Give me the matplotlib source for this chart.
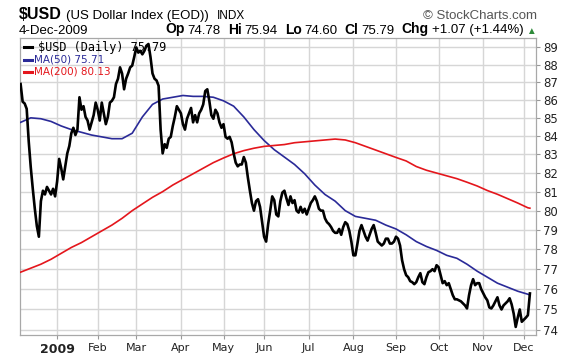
import matplotlib
matplotlib.use("Agg")
import matplotlib.pyplot as plt
from matplotlib.ticker import FixedLocator, NullLocator
import numpy as np
import pandas as pd

# Séances de cotation (jours ouvrés moins fériés US)
market_holidays = ["2008-12-25", "2009-01-01", "2009-01-19", "2009-02-16", "2009-04-10",
                   "2009-05-25", "2009-07-03", "2009-09-07", "2009-11-26"]
sessions = pd.bdate_range("2008-12-05", "2009-12-04", freq="C", holidays=market_holidays)

# Clôtures quotidiennes $USD, par mois
close_dec08 = [86.9, 85.9, 85.8, 85.5, 83.7, 82.3, 81.15, 80.1, 79.2, 78.65, 80.5, 81.05,
               80.85, 81.25, 81.05, 80.85, 81.15, 80.75]
close_jan = [81.55, 82.75, 82.25, 81.65, 82.35, 83.05, 83.45, 84.15, 84.45, 84.05, 84.35,
             86.15, 85.45, 85.65, 85.05, 84.85, 84.35, 84.75, 85.15, 85.85]
close_feb = [85.45, 84.85, 85.85, 85.25, 84.65, 85.05, 85.85, 85.95, 86.15, 86.9, 87.2,
             87.85, 87.5, 86.6, 87.2, 87.5, 87.85, 87.95, 88.45]
close_mar = [89.0, 88.7, 88.8, 88.6, 88.8, 89.1, 89.2, 88.45, 87.5, 87.2, 87.1, 86.8,
             84.35, 83.05, 83.55, 83.35, 83.85, 83.95, 84.55, 85.05, 85.65, 85.45]
close_apr = [85.25, 84.65, 84.35, 84.95, 85.25, 85.55, 84.75, 85.15, 84.75, 85.25, 85.45,
             85.75, 86.5, 86.6, 85.95, 85.15, 84.95, 85.45, 85.25, 84.75, 84.45]
close_may = [84.65, 83.95, 83.85, 83.95, 83.65, 83.05, 82.55, 82.35, 82.45, 82.45, 82.85,
             82.55, 81.75, 81.05, 80.4, 80.0, 80.5, 80.6, 80.2, 79.4]
close_jun = [78.65, 78.4, 79.3, 80.0, 80.75, 80.55, 79.8, 79.7, 80.5, 80.95, 81.05, 80.65,
             80.3, 80.75, 80.4, 80.55, 80.0, 79.9, 80.2, 79.9, 80.1, 79.8]
close_jul = [80.1, 80.4, 80.55, 80.75, 80.5, 80.1, 80.0, 80.0, 79.6, 79.4, 79.3, 79.15,
             78.95, 78.85, 78.85, 79.05, 78.75, 79.15, 79.4, 79.3, 78.95, 78.4]
close_aug = [77.7, 77.7, 78.3, 78.95, 79.25, 78.95, 78.65, 78.45, 78.75, 79.05, 79.25,
             78.85, 78.4, 78.3, 78.2, 78.3, 78.55, 78.55, 78.3, 78.3, 78.4]
close_sep = [78.65, 78.55, 78.2, 77.45, 77.0, 76.7, 76.6, 76.4, 76.35, 76.25, 76.35, 76.6,
             76.8, 76.35, 76.25, 76.6, 76.85, 76.9, 77.0, 76.9, 77.2]
close_oct = [77.1, 76.7, 76.3, 76.4, 76.2, 76.3, 76.0, 75.7, 75.5, 75.5, 75.45, 75.4, 75.3,
             75.2, 75.05, 75.7, 76.2, 76.5, 76.2, 76.3, 76.3, 76.0]
close_nov = [75.8, 75.6, 75.45, 75.1, 75.05, 75.2, 75.4, 75.6, 75.2, 75.0, 75.2, 75.3,
             75.4, 75.55, 75.25, 74.8, 74.15, 74.6, 75.0, 74.4]
close_dec09 = [74.5, 74.6, 74.72, 75.79]

# Moyennes mobiles, relevées toutes les 5 séances (+ dernière séance)
ma_step = 5
ma50 = [84.75, 85.0, 84.95, 84.8, 84.55, 84.35, 84.2, 84.05, 83.95, 83.85, 83.85, 84.15,
        85.05, 85.75, 86.05, 86.15, 86.25, 86.2, 86.2, 86.15, 85.95, 85.65, 85.05, 84.35,
        83.75, 83.25, 82.85, 82.45, 81.95, 81.35, 80.85, 80.5, 80.0, 79.7, 79.6, 79.5,
        79.25, 79.05, 78.75, 78.4, 78.15, 77.95, 77.7, 77.55, 77.25, 76.9, 76.6, 76.3,
        76.1, 75.9, 75.75, 75.71]
ma200 = [76.85, 77.05, 77.25, 77.5, 77.8, 78.1, 78.35, 78.65, 78.95, 79.25, 79.6, 80.0,
         80.35, 80.7, 81.0, 81.35, 81.65, 81.95, 82.25, 82.55, 82.8, 83.03, 83.2, 83.33,
         83.43, 83.48, 83.53, 83.63, 83.68, 83.73, 83.78, 83.83, 83.78, 83.63, 83.43,
         83.23, 83.03, 82.83, 82.64, 82.34, 82.14, 81.99, 81.84, 81.69, 81.5, 81.3, 81.06,
         80.86, 80.63, 80.4, 80.15, 80.13]

y_ticks = list(range(74, 90))
month_labels = ["2009", "Feb", "Mar", "Apr", "May", "Jun", "Jul", "Aug", "Sep", "Oct", "Nov", "Dec"]

close = (close_dec08 + close_jan + close_feb + close_mar + close_apr + close_may + close_jun
         + close_jul + close_aug + close_sep + close_oct + close_nov + close_dec09)
x = np.arange(len(sessions))
ma_x = list(range(0, len(sessions) - 1, ma_step)) + [len(sessions) - 1]

# première séance de chaque mois de 2009
s = pd.Series(x, index=sessions)
s09 = s[s.index.year == 2009]
month_first = s09.groupby(s09.index.month).min().values

W, H = 576, 356
fig = plt.figure(figsize=(W / 100, H / 100), dpi=100)
ax = fig.add_axes([20 / W, 1 - 335 / H, (536 - 20) / W, (335 - 38) / H])

grid_c = "#d6d6d6"
for m in month_first:
    ax.axvline(m, color=grid_c, lw=1, zorder=0)
for t in y_ticks:
    ax.axhline(t, color=grid_c, lw=1, zorder=0)

ax.plot(x, close, color="black", lw=1.9, zorder=4)
ax.plot(ma_x, ma50, color="#2a2a98", lw=1.2, zorder=3)
ax.plot(ma_x, ma200, color="#e4161c", lw=1.2, zorder=3)

ax.set_yscale("log")
ax.set_ylim(73.76, 89.55)
ax.set_xlim(-0.3, 254)
ax.yaxis.set_major_locator(FixedLocator(y_ticks))
ax.yaxis.set_minor_locator(NullLocator())
ax.set_yticklabels([str(t) for t in y_ticks])
ax.yaxis.tick_right()
ax.tick_params(axis="y", length=3, width=0.8, color="#999999", pad=2,
               labelsize=8.5, labelcolor="#222222")
ax.set_xticks(month_first)
ax.set_xticklabels(month_labels)
ax.tick_params(axis="x", length=3, width=0.8, color="#999999", pad=3,
               labelsize=8, labelcolor="#222222")
ax.get_xticklabels()[0].set_fontweight("bold")
ax.get_xticklabels()[0].set_fontsize(9)
for sp in ax.spines.values():
    sp.set_color("#a8a8a8")
    sp.set_linewidth(0.9)

# Légende à la StockCharts
leg = [("$USD (Daily) 75.79", "black", 8.6, "DejaVu Sans Mono"),
       ("MA(50) 75.71", "#2a2a98", 7.5, "DejaVu Sans"),
       ("MA(200) 80.13", "#e4161c", 7.5, "DejaVu Sans")]
for i, (txt, c, fs, fam) in enumerate(leg):
    yy = 1 - (47 + 12.5 * i) / H
    fig.add_artist(plt.Line2D([24 / W, 32 / W], [yy, yy], color=c, lw=2.2))
    fig.text(33.5 / W if i else 38 / W, yy, txt, color=c, fontsize=fs, family=fam,
             va="center", ha="left")

# En-tête
rend = fig.canvas.get_renderer()


def run(pieces, x0, y0, right=None):
    arts = []
    xx = x0
    for txt, kw, gap in pieces:
        t = fig.text(xx / W, 1 - y0 / H, txt, ha="left", va="baseline",
                     family="Liberation Sans", **kw)
        w = t.get_window_extent(rend).width
        arts.append(t)
        xx += w + gap
    if right is not None:
        shift = right - (xx - pieces[-1][2])
        for t in arts:
            px, py = t.get_position()
            t.set_position((px + shift / W, py))


run([("$USD", dict(fontsize=11.5, fontweight="bold"), 4),
     ("(US Dollar Index (EOD))", dict(fontsize=9.5), 8),
     ("INDX", dict(fontsize=8.5), 0)], 19, 19)
fig.text(537 / W, 1 - 19 / H, "© StockCharts.com", ha="right", va="baseline",
         family="Liberation Sans", fontsize=9.5, color="#555555")
fig.text(19 / W, 1 - 33.5 / H, "4-Dec-2009", ha="left", va="baseline",
         family="Liberation Sans", fontsize=9.5)
b = dict(fontsize=10, fontweight="bold")
r = dict(fontsize=9.5)
run([("Op", b, 3), ("74.78", r, 7), ("Hi", b, 3), ("75.94", r, 7), ("Lo", b, 3),
     ("74.60", r, 7), ("Cl", b, 3), ("75.79", r, 7), ("Chg", b, 3), ("+1.07 (+1.44%)", r, 3),
     ("▲", dict(fontsize=7, color="#2e8b3a"), 0)], 150, 33.5, right=536)

fig.savefig("out.png", dpi=100)
